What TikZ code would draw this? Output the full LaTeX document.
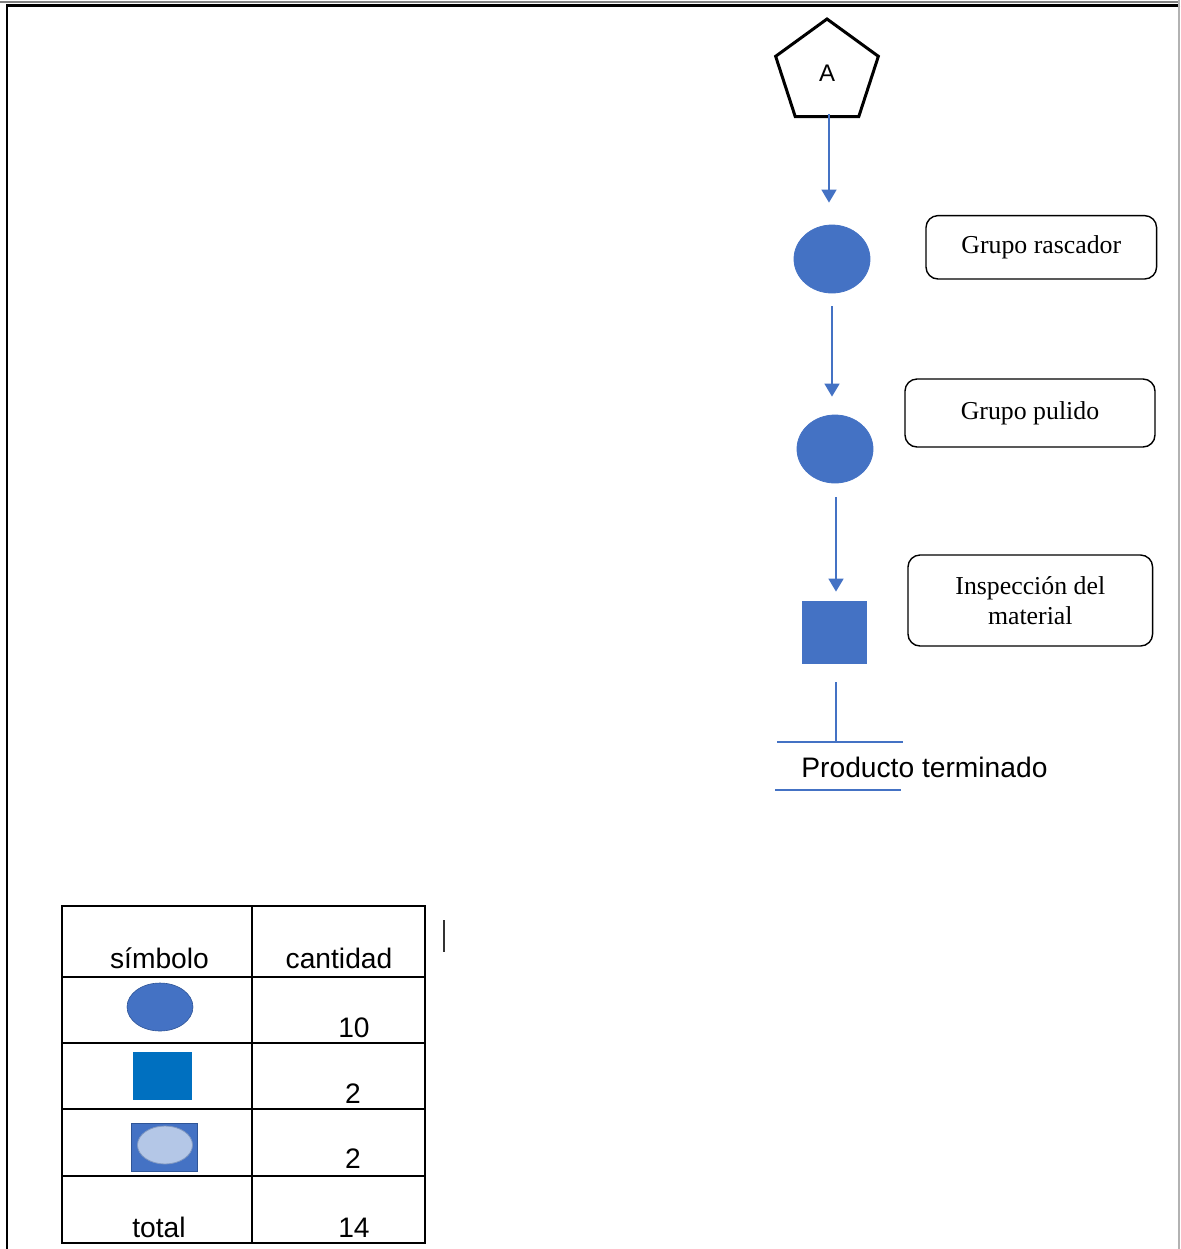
\documentclass[tikz,border=0pt]{standalone}
\usepackage{fontspec}
\setmainfont{Liberation Serif}
\newfontfamily\arial{Liberation Sans}
\usetikzlibrary{shapes.geometric,arrows.meta,calc}
\definecolor{blueA}{HTML}{4472C4}
\definecolor{blueB}{HTML}{0070C0}
\definecolor{blueL}{HTML}{B4C7E7}
\definecolor{blueE}{HTML}{2F5597}
\tikzset{
  flowarrow/.style={draw=blueA, line width=0.85pt, -{Triangle[length=6.5pt,width=7.5pt]}},
  flowline/.style={draw=blueA, line width=0.85pt},
  procshape/.style={ellipse, fill=blueA, draw=blueA, line width=0.4pt, minimum width=38pt, minimum height=34pt, inner sep=0pt},
  inspshape/.style={rectangle, fill=blueA, draw=blueA, line width=0.4pt, minimum width=32pt, minimum height=31pt, inner sep=0pt},
  labelbox/.style={rectangle, rounded corners=6pt, draw=black, line width=0.7pt, font=\fontsize{12.9}{15}\selectfont, align=center, inner sep=0pt},
  tabtext/.style={font=\arial\fontsize{14.1}{16}\selectfont, anchor=base, inner sep=0pt},
  tabline/.style={draw=black, line width=1pt},
}
\begin{document}
\begin{tikzpicture}[x=0.5pt, y=-0.5pt]
\useasboundingbox (0,0) rectangle (1180,1249);
% page frame
\draw[draw=black!50, line width=1pt] (0,1.5) -- (1180,1.5);
\draw[draw=black, line width=1.1pt] (1180,5.5) -- (7,5.5) -- (7,1249);
\draw[draw=black!30, line width=1pt] (1179,0) -- (1179,1249);

% flow
\node[regular polygon, regular polygon sides=5, draw=black, line width=1.5pt, minimum size=54pt, inner sep=0pt,
      font=\arial\fontsize{12}{14}\selectfont] (pent) at (827,73) {A};
\node[procshape] (c1) at (832,259) {};
\node[procshape] (c2) at (835,449) {};
\node[inspshape] (sq) at (834,632) {};

\draw[flowarrow] ([xshift=1pt,yshift=2pt]pent.south) -- ([xshift=-1.5pt,yshift=11pt]c1.north);
\draw[flowarrow] ([yshift=-6.5pt]c1.south) -- ([xshift=-1.5pt,yshift=9pt]c2.north);
\draw[flowarrow] ([xshift=0.5pt,yshift=-7pt]c2.south) -- ([xshift=1pt,yshift=4.5pt]sq.north);

\coordinate (endtop) at (836,742);
\draw[flowline] ([xshift=1pt,yshift=-9.5pt]sq.south) -- (endtop);
\coordinate (tl1) at (777,742);
\coordinate (tl2) at (903,742);
\coordinate (bl1) at (775,790);
\coordinate (bl2) at (901,790);
\draw[flowline] (tl1) -- (tl2);
\draw[flowline] (bl1) -- (bl2);
\node[anchor=base west, inner sep=0pt, font=\arial\fontsize{14.1}{16}\selectfont] (prod) at (801,777) {Producto terminado};

% label boxes
\node[labelbox, minimum width=115.3pt, minimum height=31.7pt] (b1) at (1041.3,247.3) {Grupo rascador};
\node[labelbox, minimum width=125pt, minimum height=34pt] (b2) at (1030,413) {Grupo pulido};
\node[labelbox, minimum width=122.3pt, minimum height=45.5pt] (b3) at (1030.3,600.5) {Inspección del\\material};

% table
\draw[tabline] (62,906) rectangle (425,1242.5);
\draw[tabline] (252,906) -- (252,1242.5);
\draw[tabline] (62,977) -- (425,977);
\draw[tabline] (62,1043) -- (425,1043);
\draw[tabline] (62,1109) -- (425,1109);
\draw[tabline] (62,1176) -- (425,1176);

\node[tabtext] (h1) at (159.5,968) {símbolo};
\node[tabtext] (h2) at (339,968) {cantidad};
\node[tabtext] (v1) at (354,1037) {10};
\node[tabtext] (v2) at (353,1103) {2};
\node[tabtext] (v3) at (353,1168) {2};
\node[tabtext] (tt) at (159,1237) {total};
\node[tabtext] (v4) at (354,1237) {14};

\node[ellipse, fill=blueA, draw=blueE, line width=0.3pt, minimum width=33pt, minimum height=24pt, inner sep=0pt] (s1) at (160,1007) {};
\node[rectangle, fill=blueB, draw=blueB, line width=0.3pt, minimum width=29pt, minimum height=23.5pt, inner sep=0pt] (s2) at (162,1075.5) {};
\node[rectangle, fill=blueA, draw=blueE, line width=0.3pt, minimum width=33pt, minimum height=24pt, inner sep=0pt] (s3) at (164,1147) {};
\node[ellipse, fill=blueL, draw=blueE!60, line width=0.4pt, minimum width=27.5pt, minimum height=19pt, inner sep=0pt] (s3i) at (165,1145) {};

% text cursor
\draw[draw=black!80, line width=0.8pt] (444,920) -- (444,952);
\end{tikzpicture}
\end{document}
